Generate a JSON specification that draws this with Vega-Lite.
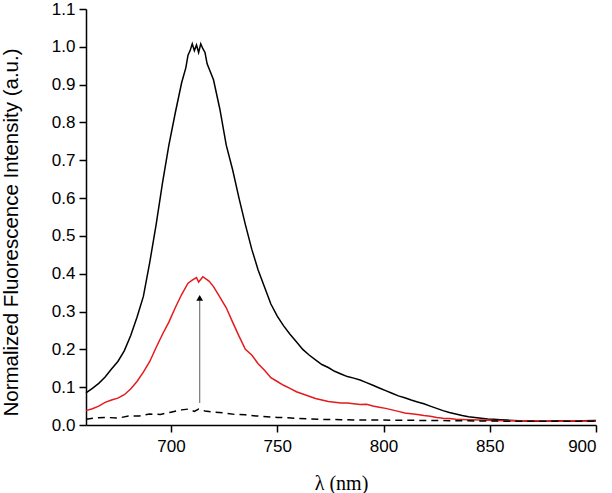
{
  "$schema": "https://vega.github.io/schema/vega-lite/v6.json",
  "width": 510,
  "height": 416,
  "autosize": {"type": "none"},
  "padding": {"left": 86, "top": 9, "right": 16, "bottom": 68},
  "background": "white",
  "config": {"view": {"stroke": null}},
  "datasets": {
    "black": [
      {"nm":660,"v":0.085},{"nm":663,"v":0.097},{"nm":666,"v":0.11},{"nm":669,"v":0.127},{"nm":672,"v":0.148},{"nm":675,"v":0.168},{"nm":678,"v":0.196},{"nm":681,"v":0.236},{"nm":684,"v":0.285},{"nm":687,"v":0.34},{"nm":690,"v":0.43},{"nm":693,"v":0.53},{"nm":696,"v":0.64},{"nm":699,"v":0.74},{"nm":702,"v":0.825},{"nm":705,"v":0.905},{"nm":707,"v":0.945},{"nm":708,"v":0.978},{"nm":709,"v":0.99},{"nm":710,"v":1.008},{"nm":711,"v":0.99},{"nm":712,"v":1.005},{"nm":713,"v":0.985},{"nm":714,"v":1.008},{"nm":715,"v":0.995},{"nm":716,"v":0.985},{"nm":717,"v":0.955},{"nm":720,"v":0.913},{"nm":723,"v":0.835},{"nm":726,"v":0.74},{"nm":729,"v":0.675},{"nm":732,"v":0.6},{"nm":735,"v":0.53},{"nm":738,"v":0.465},{"nm":741,"v":0.41},{"nm":744,"v":0.365},{"nm":747,"v":0.32},{"nm":750,"v":0.288},{"nm":753,"v":0.262},{"nm":756,"v":0.24},{"nm":759,"v":0.22},{"nm":762,"v":0.2},{"nm":765,"v":0.185},{"nm":768,"v":0.172},{"nm":771,"v":0.16},{"nm":774,"v":0.152},{"nm":777,"v":0.142},{"nm":780,"v":0.135},{"nm":783,"v":0.128},{"nm":786,"v":0.124},{"nm":789,"v":0.119},{"nm":792,"v":0.112},{"nm":795,"v":0.105},{"nm":798,"v":0.098},{"nm":801,"v":0.091},{"nm":804,"v":0.084},{"nm":807,"v":0.077},{"nm":810,"v":0.072},{"nm":813,"v":0.066},{"nm":816,"v":0.061},{"nm":819,"v":0.056},{"nm":822,"v":0.05},{"nm":825,"v":0.044},{"nm":828,"v":0.038},{"nm":831,"v":0.033},{"nm":834,"v":0.029},{"nm":837,"v":0.025},{"nm":840,"v":0.022},{"nm":843,"v":0.02},{"nm":846,"v":0.018},{"nm":849,"v":0.016},{"nm":852,"v":0.015},{"nm":855,"v":0.014},{"nm":858,"v":0.013},{"nm":861,"v":0.012},{"nm":864,"v":0.011},{"nm":870,"v":0.01},{"nm":876,"v":0.01},{"nm":882,"v":0.011},{"nm":888,"v":0.01},{"nm":894,"v":0.011},{"nm":900,"v":0.012}
    ],
    "red": [
      {"nm":660,"v":0.038},{"nm":663,"v":0.043},{"nm":666,"v":0.05},{"nm":669,"v":0.06},{"nm":672,"v":0.066},{"nm":675,"v":0.071},{"nm":678,"v":0.08},{"nm":681,"v":0.095},{"nm":684,"v":0.115},{"nm":687,"v":0.14},{"nm":690,"v":0.168},{"nm":693,"v":0.205},{"nm":696,"v":0.24},{"nm":699,"v":0.272},{"nm":702,"v":0.31},{"nm":705,"v":0.345},{"nm":708,"v":0.375},{"nm":710,"v":0.383},{"nm":712,"v":0.39},{"nm":713,"v":0.378},{"nm":715,"v":0.392},{"nm":718,"v":0.38},{"nm":720,"v":0.366},{"nm":723,"v":0.338},{"nm":726,"v":0.31},{"nm":729,"v":0.272},{"nm":732,"v":0.235},{"nm":735,"v":0.2},{"nm":738,"v":0.185},{"nm":741,"v":0.162},{"nm":744,"v":0.145},{"nm":747,"v":0.125},{"nm":750,"v":0.115},{"nm":753,"v":0.105},{"nm":756,"v":0.097},{"nm":759,"v":0.088},{"nm":762,"v":0.082},{"nm":765,"v":0.076},{"nm":768,"v":0.07},{"nm":771,"v":0.066},{"nm":774,"v":0.062},{"nm":777,"v":0.06},{"nm":780,"v":0.058},{"nm":783,"v":0.058},{"nm":786,"v":0.056},{"nm":789,"v":0.054},{"nm":792,"v":0.055},{"nm":795,"v":0.05},{"nm":798,"v":0.047},{"nm":801,"v":0.044},{"nm":804,"v":0.04},{"nm":807,"v":0.036},{"nm":810,"v":0.032},{"nm":813,"v":0.03},{"nm":816,"v":0.028},{"nm":819,"v":0.025},{"nm":822,"v":0.023},{"nm":825,"v":0.02},{"nm":828,"v":0.018},{"nm":831,"v":0.017},{"nm":834,"v":0.015},{"nm":840,"v":0.014},{"nm":846,"v":0.013},{"nm":852,"v":0.012},{"nm":858,"v":0.011},{"nm":870,"v":0.011},{"nm":880,"v":0.01},{"nm":890,"v":0.011},{"nm":900,"v":0.01}
    ],
    "dashed": [
      {"nm":660,"v":0.015},{"nm":665,"v":0.019},{"nm":670,"v":0.02},{"nm":675,"v":0.018},{"nm":680,"v":0.024},{"nm":685,"v":0.024},{"nm":690,"v":0.029},{"nm":695,"v":0.028},{"nm":700,"v":0.034},{"nm":705,"v":0.04},{"nm":708,"v":0.042},{"nm":711,"v":0.036},{"nm":713,"v":0.042},{"nm":716,"v":0.037},{"nm":720,"v":0.034},{"nm":725,"v":0.032},{"nm":730,"v":0.028},{"nm":735,"v":0.027},{"nm":740,"v":0.024},{"nm":745,"v":0.022},{"nm":750,"v":0.02},{"nm":755,"v":0.019},{"nm":760,"v":0.017},{"nm":770,"v":0.015},{"nm":780,"v":0.014},{"nm":790,"v":0.013},{"nm":800,"v":0.013},{"nm":820,"v":0.012},{"nm":840,"v":0.011},{"nm":860,"v":0.01},{"nm":880,"v":0.01},{"nm":900,"v":0.01}
    ],
    "arrowline": [{"nm":713.5,"v":0.058,"v2":0.33}],
    "arrowhead": [{"nm":713.5,"v":0.336}]
  },
  "encoding": {
    "x": {"field": "nm", "type": "quantitative", "scale": {"domain": [660, 900], "nice": false},
      "axis": {"values": [700, 750, 800, 850, 900], "labelOverlap": false, "grid": false, "domainColor": "black", "domainWidth": 1.5, "tickColor": "black", "tickWidth": 1.5, "tickSize": 7, "labelFont": "Liberation Sans", "labelFontSize": 17, "labelColor": "black", "labelPadding": 6,
        "title": "λ (nm)", "titleFont": "Liberation Serif", "titleFontSize": 20, "titleFontWeight": "normal", "titleColor": "black", "titleBaseline": "alphabetic", "titleY": 64}},
    "y": {"field": "v", "type": "quantitative", "scale": {"domain": [0, 1.1], "nice": false},
      "axis": {"values": [0, 0.1, 0.2, 0.3, 0.4, 0.5, 0.6, 0.7, 0.8, 0.9, 1.0, 1.1], "labelOverlap": false, "format": ".1f", "grid": false, "domainColor": "black", "domainWidth": 1.5, "tickColor": "black", "tickWidth": 1.5, "tickSize": 7, "labelFont": "Liberation Sans", "labelFontSize": 17, "labelColor": "black", "labelPadding": 4,
        "title": "Normalized Fluorescence Intensity (a.u.)", "titleFont": "Liberation Sans", "titleFontSize": 20.5, "titleFontWeight": "normal", "titleColor": "black", "titleAngle": -90, "titleAlign": "center", "titleBaseline": "middle", "titleX": -75, "titleY": 223}}
  },
  "layer": [
    {
      "data": {"name": "black"},
      "mark": {"type": "line", "color": "black", "strokeWidth": 1.5}
    },
    {
      "data": {"name": "red"},
      "mark": {"type": "line", "color": "#e41a1c", "strokeWidth": 1.5}
    },
    {
      "data": {"name": "dashed"},
      "mark": {"type": "line", "color": "black", "strokeWidth": 1.5, "strokeDash": [7, 5]}
    },
    {
      "data": {"name": "arrowline"},
      "mark": {"type": "rule", "color": "#777777", "strokeWidth": 1.2},
      "encoding": {"y2": {"field": "v2"}}
    },
    {
      "data": {"name": "arrowhead"},
      "mark": {"type": "point", "shape": "triangle-up", "filled": true, "color": "black", "size": 45, "opacity": 1}
    }
  ]
}
